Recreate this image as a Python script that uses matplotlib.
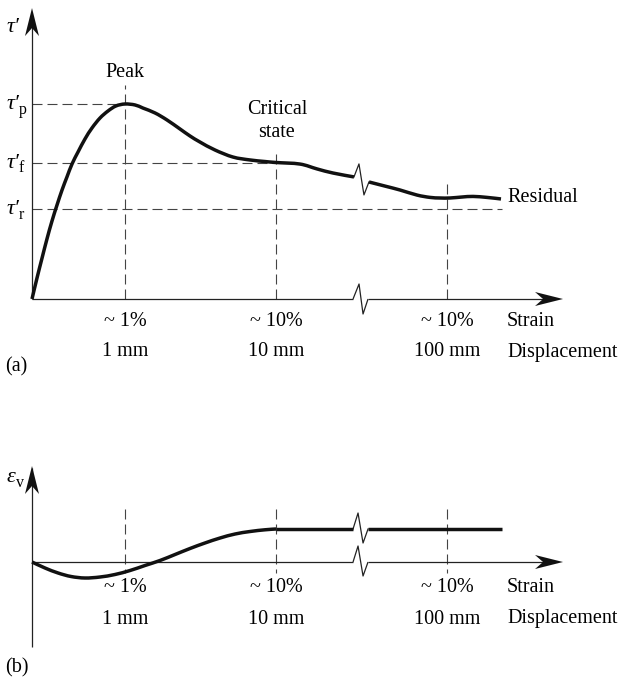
import numpy as np
import matplotlib.pyplot as plt
from matplotlib.path import Path
from matplotlib.patches import PathPatch

plt.rcParams['font.family'] = ['Liberation Serif', 'DejaVu Serif']

W, H = 618, 683

# --- data (schematic units: x = strain position, peak = 1) ---
tick_pos = [1.0, 2.624, 4.462]
strain_lbl = ["~ 1%", "~ 10%", "~ 10%"]
disp_lbl = ["1 mm", "10 mm", "100 mm"]
axis_break = 3.452

# panel (a): tau'/tau'_p
tau_levels = [1.0, 0.70, 0.46]
tau_subs = ["p", "f", "r"]
tau_line_end = [1.0, 2.624, 5.054]
vdash_top_a = [1.097, 0.769, 0.595]

xa1 = [0, 0.054, 0.108, 0.161, 0.215, 0.269, 0.323, 0.376, 0.430, 0.495, 0.570,
       0.645, 0.731, 0.817, 0.903, 1.0, 1.108, 1.194, 1.323, 1.452, 1.591, 1.699,
       1.806, 1.968, 2.161, 2.344, 2.505, 2.624, 2.882, 3.065, 3.237, 3.462]
ya1 = [0, 0.108, 0.210, 0.308, 0.400, 0.482, 0.559, 0.626, 0.692, 0.754, 0.821,
       0.877, 0.928, 0.964, 0.990, 1.0, 0.995, 0.979, 0.954, 0.918, 0.872, 0.836,
       0.805, 0.764, 0.728, 0.713, 0.705, 0.70, 0.692, 0.667, 0.646, 0.626]
xa2 = [3.624, 3.796, 3.957, 4.140, 4.280, 4.387, 4.495, 4.624, 4.742, 4.892, 5.043]
ya2 = [0.600, 0.579, 0.559, 0.533, 0.521, 0.518, 0.518, 0.523, 0.526, 0.521, 0.513]

# panel (b): volumetric strain (plateau = 1)
xb1 = [0, 0.140, 0.280, 0.419, 0.570, 0.731, 0.892, 1.054, 1.215, 1.376, 1.538,
       1.699, 1.860, 2.022, 2.183, 2.344, 2.505, 2.624]
yb1 = [0, -0.182, -0.333, -0.439, -0.485, -0.455, -0.379, -0.258, -0.106, 0.045,
       0.227, 0.409, 0.576, 0.727, 0.848, 0.924, 0.976, 1.0]
xb_flat = [2.624, 3.452]
xb2 = [3.613, 5.054]
eps_plateau = 1.0
vdash_b = (1.606, -0.333)

fig = plt.figure(figsize=(W / 100, H / 100), dpi=100)


def make_panel(x0, y0, sx, sy):
    ax = fig.add_axes([0, 0, 1, 1])
    ax.set_xlim(-x0 / sx, (W - x0) / sx)
    ax.set_ylim(-(H - y0) / sy, y0 / sy)
    ax.axis('off')
    ax.patch.set_visible(False)
    return ax


def px_path(ax, x, y, rel):
    # rel: offsets in pixels (y up) from data point (x, y)
    p = ax.transData.transform((x, y))
    return ax.transData.inverted().transform(p + np.asarray(rel, float))


def arrowhead(ax, x, y, up=False):
    rel = [(0, 0), (-28, 7), (-20, 0), (-28, -7)]
    if up:
        rel = [(0, 0), (-7, -28), (0, -20), (7, -28)]
    pts = px_path(ax, x, y, rel)
    ax.fill(pts[:, 0], pts[:, 1], color="#111111", lw=0, zorder=5)


def zigzag(ax, x, y, rel, **kw):
    pts = px_path(ax, x, y, rel)
    ax.plot(pts[:, 0], pts[:, 1], **kw)
    return pts[-1]


def smooth(ax, x, y, **kw):
    # smooth Bezier through the read points (Catmull-Rom tangents)
    P = np.column_stack([x, y]).astype(float)
    n = len(P)
    verts, codes = [P[0]], [Path.MOVETO]
    for i in range(n - 1):
        p0 = P[i - 1] if i > 0 else P[i]
        p1, p2 = P[i], P[i + 1]
        p3 = P[i + 2] if i + 2 < n else P[i + 1]
        verts += [p1 + (p2 - p0) / 6, p2 - (p3 - p1) / 6, p2]
        codes += [Path.CURVE4] * 3
    ax.add_patch(PathPatch(Path(verts, codes), fill=False, **kw))


def sym_label(ax, x, y, main, sub, dy, sub_dx=-13):
    ax.annotate(main, xy=(x, y), xytext=(-25, dy), textcoords="offset pixels",
                ha="left", va="baseline", fontsize=16, fontstyle="italic")
    if sub:
        ax.annotate(sub, xy=(x, y), xytext=(sub_dx, dy - 5), textcoords="offset pixels",
                    ha="left", va="baseline", fontsize=11.5)


AX_KW = dict(color="#222222", lw=0.9, solid_capstyle="butt")
DASH_KW = dict(color="#444444", lw=0.8, linestyle=(0, (9, 4.5)))
CURVE_KW = dict(color="#111111", lw=2.5, capstyle="butt", zorder=4)
FLAT_KW = dict(color="#111111", lw=2.5, solid_capstyle="butt", zorder=4)
ZZ_KW = dict(color="#222222", lw=0.9)
FS = 14.5

# ---------------- panel (a) ----------------
ax = make_panel(32, 299, 93, 195)
for lvl, xe in zip(tau_levels, tau_line_end):
    ax.plot([0, xe], [lvl, lvl], **DASH_KW)
for xp, yt in zip(tick_pos, vdash_top_a):
    ax.plot([xp, xp], [0, yt], **DASH_KW)

ax.plot([0, 0], [0, 1.45], **AX_KW)
arrowhead(ax, 0, 1.492, up=True)
ax.plot([0, axis_break], [0, 0], **AX_KW)
end = zigzag(ax, axis_break, 0, [(0, 0), (6, 15), (10, -15), (15, 0)], **AX_KW)
ax.plot([end[0], 5.6], [0, 0], **AX_KW)
arrowhead(ax, 5.71, 0)

smooth(ax, xa1, ya1, **CURVE_KW)
zigzag(ax, xa1[-1], ya1[-1], [(0, 0), (5, 13), (10, -18), (15, -5)], **ZZ_KW)
smooth(ax, xa2, ya2, **CURVE_KW)

sym_label(ax, 0, 1.4, "τ′", "", -6)
for lvl, sub in zip(tau_levels, tau_subs):
    sym_label(ax, 0, lvl, "τ′", sub, -5)

ax.text(1.0, 1.159, "Peak", ha="center", va="center", fontsize=FS)
ax.text(2.634, 0.913, "Critical\nstate", ha="center", va="center", fontsize=FS,
        linespacing=1.25)
ax.text(5.108, 0.518, "Residual", ha="left", va="center", fontsize=FS)

for xp, s1, s2 in zip(tick_pos, strain_lbl, disp_lbl):
    ax.annotate(s1, xy=(xp, 0), xytext=(0, -22), textcoords="offset pixels",
                ha="center", va="center", fontsize=FS)
    ax.annotate(s2, xy=(xp, 0), xytext=(0, -53), textcoords="offset pixels",
                ha="center", va="center", fontsize=FS)
ax.annotate("Strain", xy=(5.108, 0), xytext=(0, -22), textcoords="offset pixels",
            ha="left", va="center", fontsize=FS)
ax.annotate("Displacement", xy=(5.108, 0), xytext=(0, -53), textcoords="offset pixels",
            ha="left", va="center", fontsize=FS)
ax.annotate("(a)", xy=(0, 0), xytext=(-27, -68), textcoords="offset pixels",
            ha="left", va="center", fontsize=FS)

# ---------------- panel (b) ----------------
bx = make_panel(32, 562, 93, 33)
for xp in tick_pos:
    bx.plot([xp, xp], list(vdash_b), **DASH_KW)

bx.plot([0, 0], [-2.576, 2.85], **AX_KW)
arrowhead(bx, 0, 2.909, up=True)
bx.plot([0, axis_break], [0, 0], **AX_KW)
end = zigzag(bx, axis_break, 0, [(0, 0), (5, 16), (10, -14), (15, 0)], **AX_KW)
bx.plot([end[0], 5.6], [0, 0], **AX_KW)
arrowhead(bx, 5.71, 0)

smooth(bx, xb1, yb1, **CURVE_KW)
bx.plot(xb_flat, [eps_plateau] * 2, **FLAT_KW)
zigzag(bx, xb_flat[-1], eps_plateau, [(0, 0), (5, 16), (10, -14), (15, 0)], **ZZ_KW)
bx.plot(xb2, [eps_plateau] * 2, **FLAT_KW)

sym_label(bx, 0, 2.6, "ε", "v", -6, sub_dx=-16)
for xp, s1, s2 in zip(tick_pos, strain_lbl, disp_lbl):
    bx.annotate(s1, xy=(xp, 0), xytext=(0, -26), textcoords="offset pixels",
                ha="center", va="center", fontsize=FS)
    bx.annotate(s2, xy=(xp, 0), xytext=(0, -57), textcoords="offset pixels",
                ha="center", va="center", fontsize=FS)
bx.annotate("Strain", xy=(5.108, 0), xytext=(0, -26), textcoords="offset pixels",
            ha="left", va="center", fontsize=FS)
bx.annotate("Displacement", xy=(5.108, 0), xytext=(0, -57), textcoords="offset pixels",
            ha="left", va="center", fontsize=FS)
bx.annotate("(b)", xy=(0, 0), xytext=(-27, -106), textcoords="offset pixels",
            ha="left", va="center", fontsize=FS)

fig.savefig("out.png", dpi=100, facecolor="white")
